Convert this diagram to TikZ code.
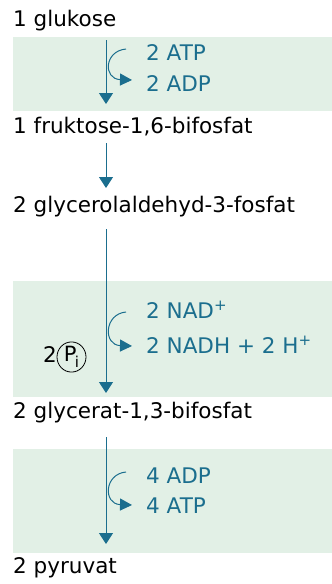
\documentclass[tikz,border=0pt]{standalone}
\usepackage{fontspec}
\setmainfont{DejaVu Sans}
\usetikzlibrary{arrows.meta,shapes.geometric}
\definecolor{band}{HTML}{E2F0E6}
\definecolor{flow}{HTML}{1B6E8E}
\tikzset{
  lbl/.style={anchor=base west, inner sep=0pt, font=\fontsize{21.5}{25}\selectfont},
  blbl/.style={lbl, text=flow},
  mainarrow/.style={draw=flow, line width=1pt, -{Triangle[length=11pt,width=14pt]}},
  curvarrow/.style={draw=flow, line width=1pt, -{Triangle[length=12pt,width=12pt]}},
  bandbox/.style={fill=band, draw=none}
}
\begin{document}
\begin{tikzpicture}[x=1pt,y=-1pt]
\useasboundingbox (0,0) rectangle (332,584);
% bands
\fill[bandbox] (13,37) rectangle (332,111);
\fill[bandbox] (13,281) rectangle (332,397);
\fill[bandbox] (13,449) rectangle (332,553);
% compounds
\node[lbl] (glc) at (13,26) {1 glukose};
\node[lbl] (fbp) at (13,133) {1 fruktose-1,6-bifosfat};
\node[lbl] (gap) at (13,212) {2 glycerolaldehyd-3-fosfat};
\node[lbl] (bpg) at (13,418) {2 glycerat-1,3-bifosfat};
\node[lbl] (pyr) at (13,573) {2 pyruvat};
% cofactors
\node[blbl] (atp1) at (146,60) {2 ATP};
\node[blbl] (adp1) at (146,91) {2 ADP};
\node[blbl] (nad) at (146,318) {2 NAD\textsuperscript{+}};
\node[blbl] (nadh) at (146,353) {2 NADH + 2 H\textsuperscript{+}};
\node[blbl] (adp2) at (146,483) {4 ADP};
\node[blbl] (atp2) at (146,513) {4 ATP};
% phosphate
\node[lbl] (two) at (43,362) {2};
\node[draw, ellipse, inner sep=0pt, minimum width=29pt, minimum height=25pt, line width=0.8pt,
      font=\fontsize{21}{24}\selectfont] (pi) at (71.5,357) {P\kern-1.5pt\raisebox{-6pt}{\fontsize{15}{16}\selectfont i}};
% main arrows
\coordinate (s1) at (106,40); \coordinate (e1) at (106,104);
\coordinate (s2) at (106,143); \coordinate (e2) at (106,188);
\coordinate (s3) at (106,229); \coordinate (e3) at (106,393);
\coordinate (s4) at (106,437); \coordinate (e4) at (106,544);
\draw[mainarrow] (s1) -- (e1);
\draw[mainarrow] (s2) -- (e2);
\draw[mainarrow] (s3) -- (e3);
\draw[mainarrow] (s4) -- (e4);
% curved arrows
\coordinate (c1a) at (126,49); \coordinate (c1b) at (132,80);
\coordinate (c2a) at (126,312); \coordinate (c2b) at (132,346);
\coordinate (c3a) at (126,472); \coordinate (c3b) at (132,505);
\draw[curvarrow] (c1a) .. controls (104,51) and (103,79) .. (c1b);
\draw[curvarrow] (c2a) .. controls (104,314) and (103,345) .. (c2b);
\draw[curvarrow] (c3a) .. controls (104,474) and (103,504) .. (c3b);
\end{tikzpicture}
\end{document}
